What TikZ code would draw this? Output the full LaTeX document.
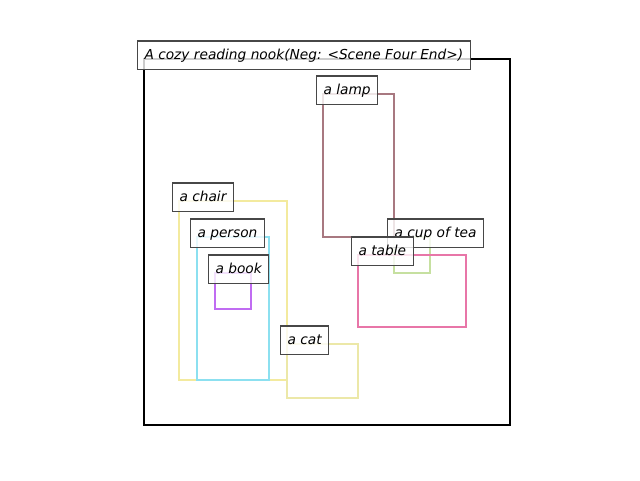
\documentclass[tikz,border=0pt]{standalone}
\usepackage{fontspec}
\setmainfont{DejaVu Sans}
\definecolor{lampc}{RGB}{168,120,128}
\definecolor{chairc}{RGB}{243,234,158}
\definecolor{personc}{RGB}{140,224,240}
\definecolor{bookc}{RGB}{192,108,242}
\definecolor{cupc}{RGB}{198,224,160}
\definecolor{tablec}{RGB}{232,118,168}
\definecolor{catc}{RGB}{236,232,168}
\tikzset{
  tag/.style={draw=black!72, line width=0.8pt, fill=white, fill opacity=0.8,
    text opacity=1, anchor=base west, xshift=-5.25pt, inner xsep=5.25pt,
    inner ysep=5pt, text height=8.5pt, text depth=2.6pt,
    font=\fontsize{10.3}{12}\selectfont\itshape},
  obj/.style={line width=1.6pt}
}
\begin{document}
\begin{tikzpicture}[x=0.75pt,y=-0.75pt]
  \useasboundingbox (0,0) rectangle (640,480);
  \draw[line width=1.6pt] (144,59) coordinate (scene) rectangle (510,425);
  % the objects
  \foreach \name/\col/\xa/\ya/\xb/\yb in {
      lamp/lampc/323/94/394/237,
      chair/chairc/179/201/287/380,
      person/personc/197/237/269/380,
      book/bookc/215/273/251/309,
      cup/cupc/394/237/430/273,
      table/tablec/358/255/466/327,
      cat/catc/287/344/358/398}
    \draw[obj,\col] (\xa,\ya) coordinate (\name) rectangle (\xb,\yb);
  % the labels
  \node[tag] (title) at (scene) {A cozy reading nook(Neg: <Scene Four End>)};
  \node[tag] (lamp-l) at (lamp) {a lamp};
  \node[tag] (chair-l) at (chair) {a chair};
  \node[tag] (person-l) at (person) {a person};
  \node[tag] (book-l) at (book) {a book};
  \node[tag] (cup-l) at (cup) {a cup of tea};
  \node[tag] (table-l) at (table) {a table};
  \node[tag] (cat-l) at (cat) {a cat};
\end{tikzpicture}
\end{document}
